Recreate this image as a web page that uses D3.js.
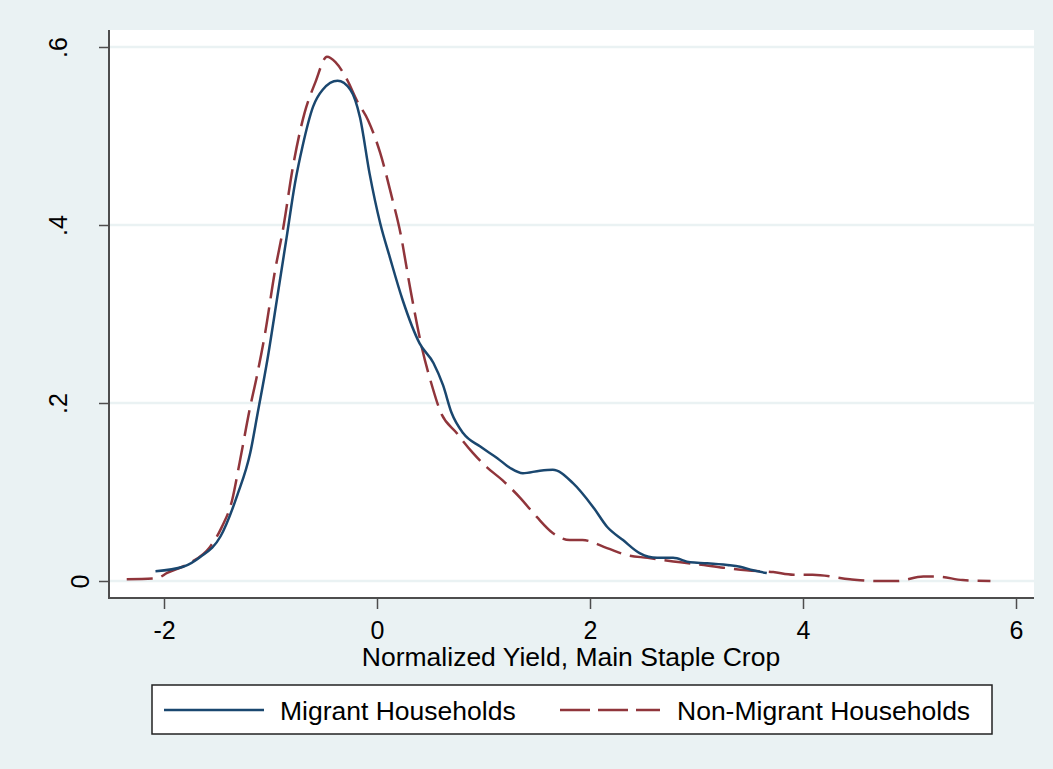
<!DOCTYPE html>
<html lang="en">
<head>
  <meta charset="utf-8">
  <title>Normalized Yield, Main Staple Crop</title>
  <script src="https://cdnjs.cloudflare.com/ajax/libs/d3/7.8.5/d3.min.js"></script>
  <style>
    body {
      margin: 0;
      background: #eaf2f3;
    }
    svg text {
      font-family: "Liberation Sans", Arial, sans-serif;
      fill: #000;
    }
  </style>
</head>
<body>
  <svg id="chart" width="1053" height="769"></svg>

  <script>
    //
    // Data
    //

    var migrantX = [-2.08, -1.82, -1.66, -1.47, -1.31, -1.19, -1.12, -1.03, -0.94, -0.85, -0.77, -0.70,
      -0.60, -0.51, -0.37, -0.25, -0.16, -0.07, 0.03, 0.12, 0.24, 0.40, 0.53, 0.62, 0.70, 0.81, 0.97,
      1.13, 1.25, 1.37, 1.53, 1.65, 1.84, 2.03, 2.16, 2.31, 2.47, 2.63, 2.78, 2.94, 3.10, 3.29, 3.41,
      3.53, 3.66]
    var migrantY = [0.011, 0.016, 0.027, 0.050, 0.097, 0.144, 0.189, 0.248, 0.316, 0.385, 0.447, 0.488,
      0.533, 0.552, 0.562, 0.552, 0.521, 0.458, 0.402, 0.364, 0.316, 0.267, 0.245, 0.220, 0.189, 0.166, 0.151,
      0.138, 0.127, 0.121, 0.124, 0.125, 0.110, 0.083, 0.061, 0.046, 0.031, 0.026, 0.026, 0.021, 0.020, 0.018, 0.016,
      0.012, 0.009]

    var nonMigrantX = [-2.35, -2.07, -1.97, -1.76, -1.57, -1.46, -1.36, -1.29, -1.19, -1.13, -1.05, -0.96,
      -0.88, -0.79, -0.68, -0.58, -0.47, -0.39, -0.28, -0.19, -0.085, 0.03, 0.14, 0.22, 0.31, 0.42, 0.52,
      0.59, 0.75, 0.90, 1.03, 1.18, 1.34, 1.50, 1.65, 1.81, 1.93, 2.16, 2.35, 2.54, 2.85, 3.00, 3.25,
      3.47, 3.72, 3.91, 4.09, 4.44, 4.69, 4.88, 5.13, 5.26, 5.50, 5.76]
    var nonMigrantY = [0.002, 0.003, 0.009, 0.020, 0.038, 0.060, 0.091, 0.133, 0.196, 0.229, 0.279, 0.347,
      0.397, 0.465, 0.526, 0.560, 0.589, 0.583, 0.563, 0.540, 0.518, 0.481, 0.431, 0.391, 0.330, 0.263, 0.218,
      0.192, 0.166, 0.144, 0.128, 0.113, 0.094, 0.072, 0.054, 0.046, 0.046, 0.037, 0.029, 0.026, 0.021, 0.019, 0.015,
      0.012, 0.010, 0.007, 0.007, 0.002, 0.000, 0.000, 0.005, 0.005, 0.001, 0.000]

    var xTicks = [-2, 0, 2, 4, 6]
    var yTicks = [0, 0.2, 0.4, 0.6]
    var yTickLabels = ['0', '.2', '.4', '.6']

    var seriesNames = ['Migrant Households', 'Non-Migrant Households']
    var xTitle = 'Normalized Yield, Main Staple Crop'

    //
    // Layout
    //

    var colorMigrant = '#1a476f'
    var colorNonMigrant = '#90353b'
    var colorGrid = '#eaf2f3'
    var colorAxis = '#4d4d4d'
    var tickFont = 25
    var textFont = 26.5

    var plot = { left: 109, right: 1034, top: 30, bottom: 598 }

    var svg = d3.select('#chart')

    var x = d3.scaleLinear().domain([-2, 6]).range([164, 1016])
    var y = d3.scaleLinear().domain([0, 0.6]).range([581, 47])

    // plot region
    svg.append('rect')
      .attr('x', plot.left)
      .attr('y', plot.top)
      .attr('width', plot.right - plot.left)
      .attr('height', plot.bottom - plot.top)
      .attr('fill', '#fff')

    // gridlines
    svg.append('g')
      .selectAll('line')
      .data(yTicks)
      .join('line')
      .attr('x1', plot.left)
      .attr('x2', plot.right)
      .attr('y1', function(d) { return y(d) })
      .attr('y2', function(d) { return y(d) })
      .attr('stroke', colorGrid)
      .attr('stroke-width', 2.5)

    // y axis
    var yAxis = svg.append('g')
      .attr('transform', 'translate(' + plot.left + ',0)')
      .call(d3.axisLeft(y)
        .tickValues(yTicks)
        .tickSize(10)
        .tickFormat(function(d, i) { return yTickLabels[i] }))
    yAxis.select('.domain').remove()
    yAxis.selectAll('.tick line').attr('stroke', colorAxis).attr('stroke-width', 1.5)
    yAxis.selectAll('.tick text')
      .attr('font-size', tickFont)
      .attr('text-anchor', 'middle')
      .attr('dy', null)
      .attr('x', null)
      .attr('transform', function(d) {
        // stata pushes the lone "0" closer to the axis
        var bx = d === 0 ? -20 : -42
        return 'translate(' + bx + ',0) rotate(-90)'
      })

    // x axis
    var xAxis = svg.append('g')
      .attr('transform', 'translate(0,' + plot.bottom + ')')
      .call(d3.axisBottom(x)
        .tickValues(xTicks)
        .tickSize(11)
        .tickFormat(d3.format('d')))
    xAxis.select('.domain').remove()
    xAxis.selectAll('.tick line').attr('stroke', colorAxis).attr('stroke-width', 1.5)
    xAxis.selectAll('.tick text')
      .attr('font-size', tickFont)
      .attr('dy', null)
      .attr('y', 41)
      .text(function(d) { return d < 0 ? '-' + Math.abs(d) : d })

    // axis lines
    svg.append('line')
      .attr('x1', plot.left).attr('x2', plot.left)
      .attr('y1', plot.top).attr('y2', plot.bottom + 1)
      .attr('stroke', colorAxis).attr('stroke-width', 2)
    svg.append('line')
      .attr('x1', plot.left - 1).attr('x2', plot.right)
      .attr('y1', plot.bottom).attr('y2', plot.bottom)
      .attr('stroke', colorAxis).attr('stroke-width', 2)

    // x title
    svg.append('text')
      .attr('x', 571)
      .attr('y', 666)
      .attr('text-anchor', 'middle')
      .attr('font-size', textFont)
      .text(xTitle)

    //
    // Lines
    //

    var line = d3.line()
      .x(function(d) { return x(d[0]) })
      .y(function(d) { return y(d[1]) })
      .curve(d3.curveMonotoneX)

    var migrant = d3.zip(migrantX, migrantY)
    var nonMigrant = d3.zip(nonMigrantX, nonMigrantY)

    svg.append('path')
      .datum(nonMigrant)
      .attr('d', line)
      .attr('fill', 'none')
      .attr('stroke', colorNonMigrant)
      .attr('stroke-width', 2.5)
      .attr('stroke-dasharray', '26,9')

    svg.append('path')
      .datum(migrant)
      .attr('d', line)
      .attr('fill', 'none')
      .attr('stroke', colorMigrant)
      .attr('stroke-width', 2.5)

    //
    // Legend
    //

    var legend = svg.append('g')
    legend.append('rect')
      .attr('x', 152).attr('y', 685)
      .attr('width', 840).attr('height', 49)
      .attr('fill', '#fff')
      .attr('stroke', '#222')
      .attr('stroke-width', 1.5)

    var keys = [
      { name: seriesNames[0], color: colorMigrant, dash: null, x0: 164, tx: 280 },
      { name: seriesNames[1], color: colorNonMigrant, dash: '30,8', x0: 560, tx: 677 }
    ]
    keys.forEach(function(k) {
      legend.append('line')
        .attr('x1', k.x0).attr('x2', k.x0 + 100)
        .attr('y1', 710).attr('y2', 710)
        .attr('stroke', k.color)
        .attr('stroke-width', 2.5)
        .attr('stroke-dasharray', k.dash)
      legend.append('text')
        .attr('x', k.tx)
        .attr('y', 720)
        .attr('font-size', textFont)
        .text(k.name)
    })
  </script>
</body>
</html>
